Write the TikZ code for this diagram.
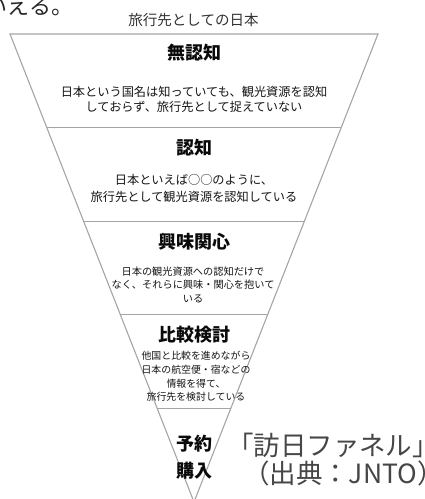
\documentclass[tikz,border=0pt]{standalone}
\usepackage{fontspec}
\newfontfamily\jp{Noto Sans CJK JP}
\usetikzlibrary{calc}
\definecolor{funnelgray}{RGB}{165,165,165}
\definecolor{txt}{RGB}{20,20,20}
\definecolor{headtxt}{RGB}{10,10,10}
\definecolor{bigtxt}{RGB}{70,70,70}
\tikzset{
  funnel/.style={draw=funnelgray, line width=1.1pt, line join=miter},
  plain/.style={inner sep=0pt, outer sep=0pt, text=txt, align=center},
  titletext/.style={plain, font=\jp\fontsize{14.5}{16}\selectfont, text=black!80},
  headtext/.style={plain, font=\jp\bfseries\fontsize{18}{20}\selectfont, text=headtxt},
  bodyA/.style={plain, font=\jp\fontsize{12.2}{15}\selectfont},
  bodyB/.style={plain, font=\jp\fontsize{12.2}{17}\selectfont},
  bodyC/.style={plain, font=\jp\fontsize{10.2}{13.5}\selectfont},
  bodyD/.style={plain, font=\jp\fontsize{9.9}{13.6}\selectfont},
  bigtext/.style={inner sep=0pt, outer sep=0pt, text=bigtxt, font=\jp\fontsize{26.5}{28}\selectfont},
  cuttext/.style={inner sep=0pt, outer sep=0pt, text=black!85, font=\jp\fontsize{22}{24}\selectfont}
}
\begin{document}
\begin{tikzpicture}[x=1pt,y=-1pt]
\useasboundingbox (0,0) rectangle (425,499);
\coordinate (TL) at (10,34);
\coordinate (TR) at (378,34);
\coordinate (AP) at (194,502);
\draw[funnel] (TL) -- (TR) -- (AP) -- cycle;
\foreach \t [count=\i] in {0.2,0.4,0.6,0.8} {
  \coordinate (L\i) at ($(TL)!\t!(AP)$);
  \coordinate (R\i) at ($(TR)!\t!(AP)$);
  \draw[funnel] (L\i) -- (R\i);
}
\node[cuttext, anchor=west] (cut) at (-14,6) {いえる。};
\node[titletext] (title) at (193.5,20) {旅行先としての日本};
\node[headtext] (h1) at (194,53) {無認知};
\node[bodyA] (b1) at (194,99.5) {日本という国名は知っていても、観光資源を認知\\しておらず、旅行先として捉えていない};
\node[headtext] (h2) at (194,148) {認知};
\node[bodyB] (b2) at (194,188.5) {日本といえば○○のように、\\旅行先として観光資源を認知している};
\node[headtext] (h3) at (194,242) {興味関心};
\node[bodyC] (b3) at (193,284.5) {日本の観光資源への認知だけで\\なく、それらに興味・関心を抱いて\\いる};
\node[headtext] (h4) at (194,335) {比較検討};
\node[bodyD] (b4) at (196,376.5) {他国と比較を進めながら\\日本の航空便・宿などの\\情報を得て、\\旅行先を検討している};
\node[headtext] (h5a) at (194,444) {予約};
\node[headtext] (h5b) at (194,471) {購入};
\node[bigtext, anchor=west] (funnelname) at (227,445) {「訪日ファネル」};
\node[bigtext, anchor=west] (source) at (243,473) {（出典：JNTO）};
\end{tikzpicture}
\end{document}
